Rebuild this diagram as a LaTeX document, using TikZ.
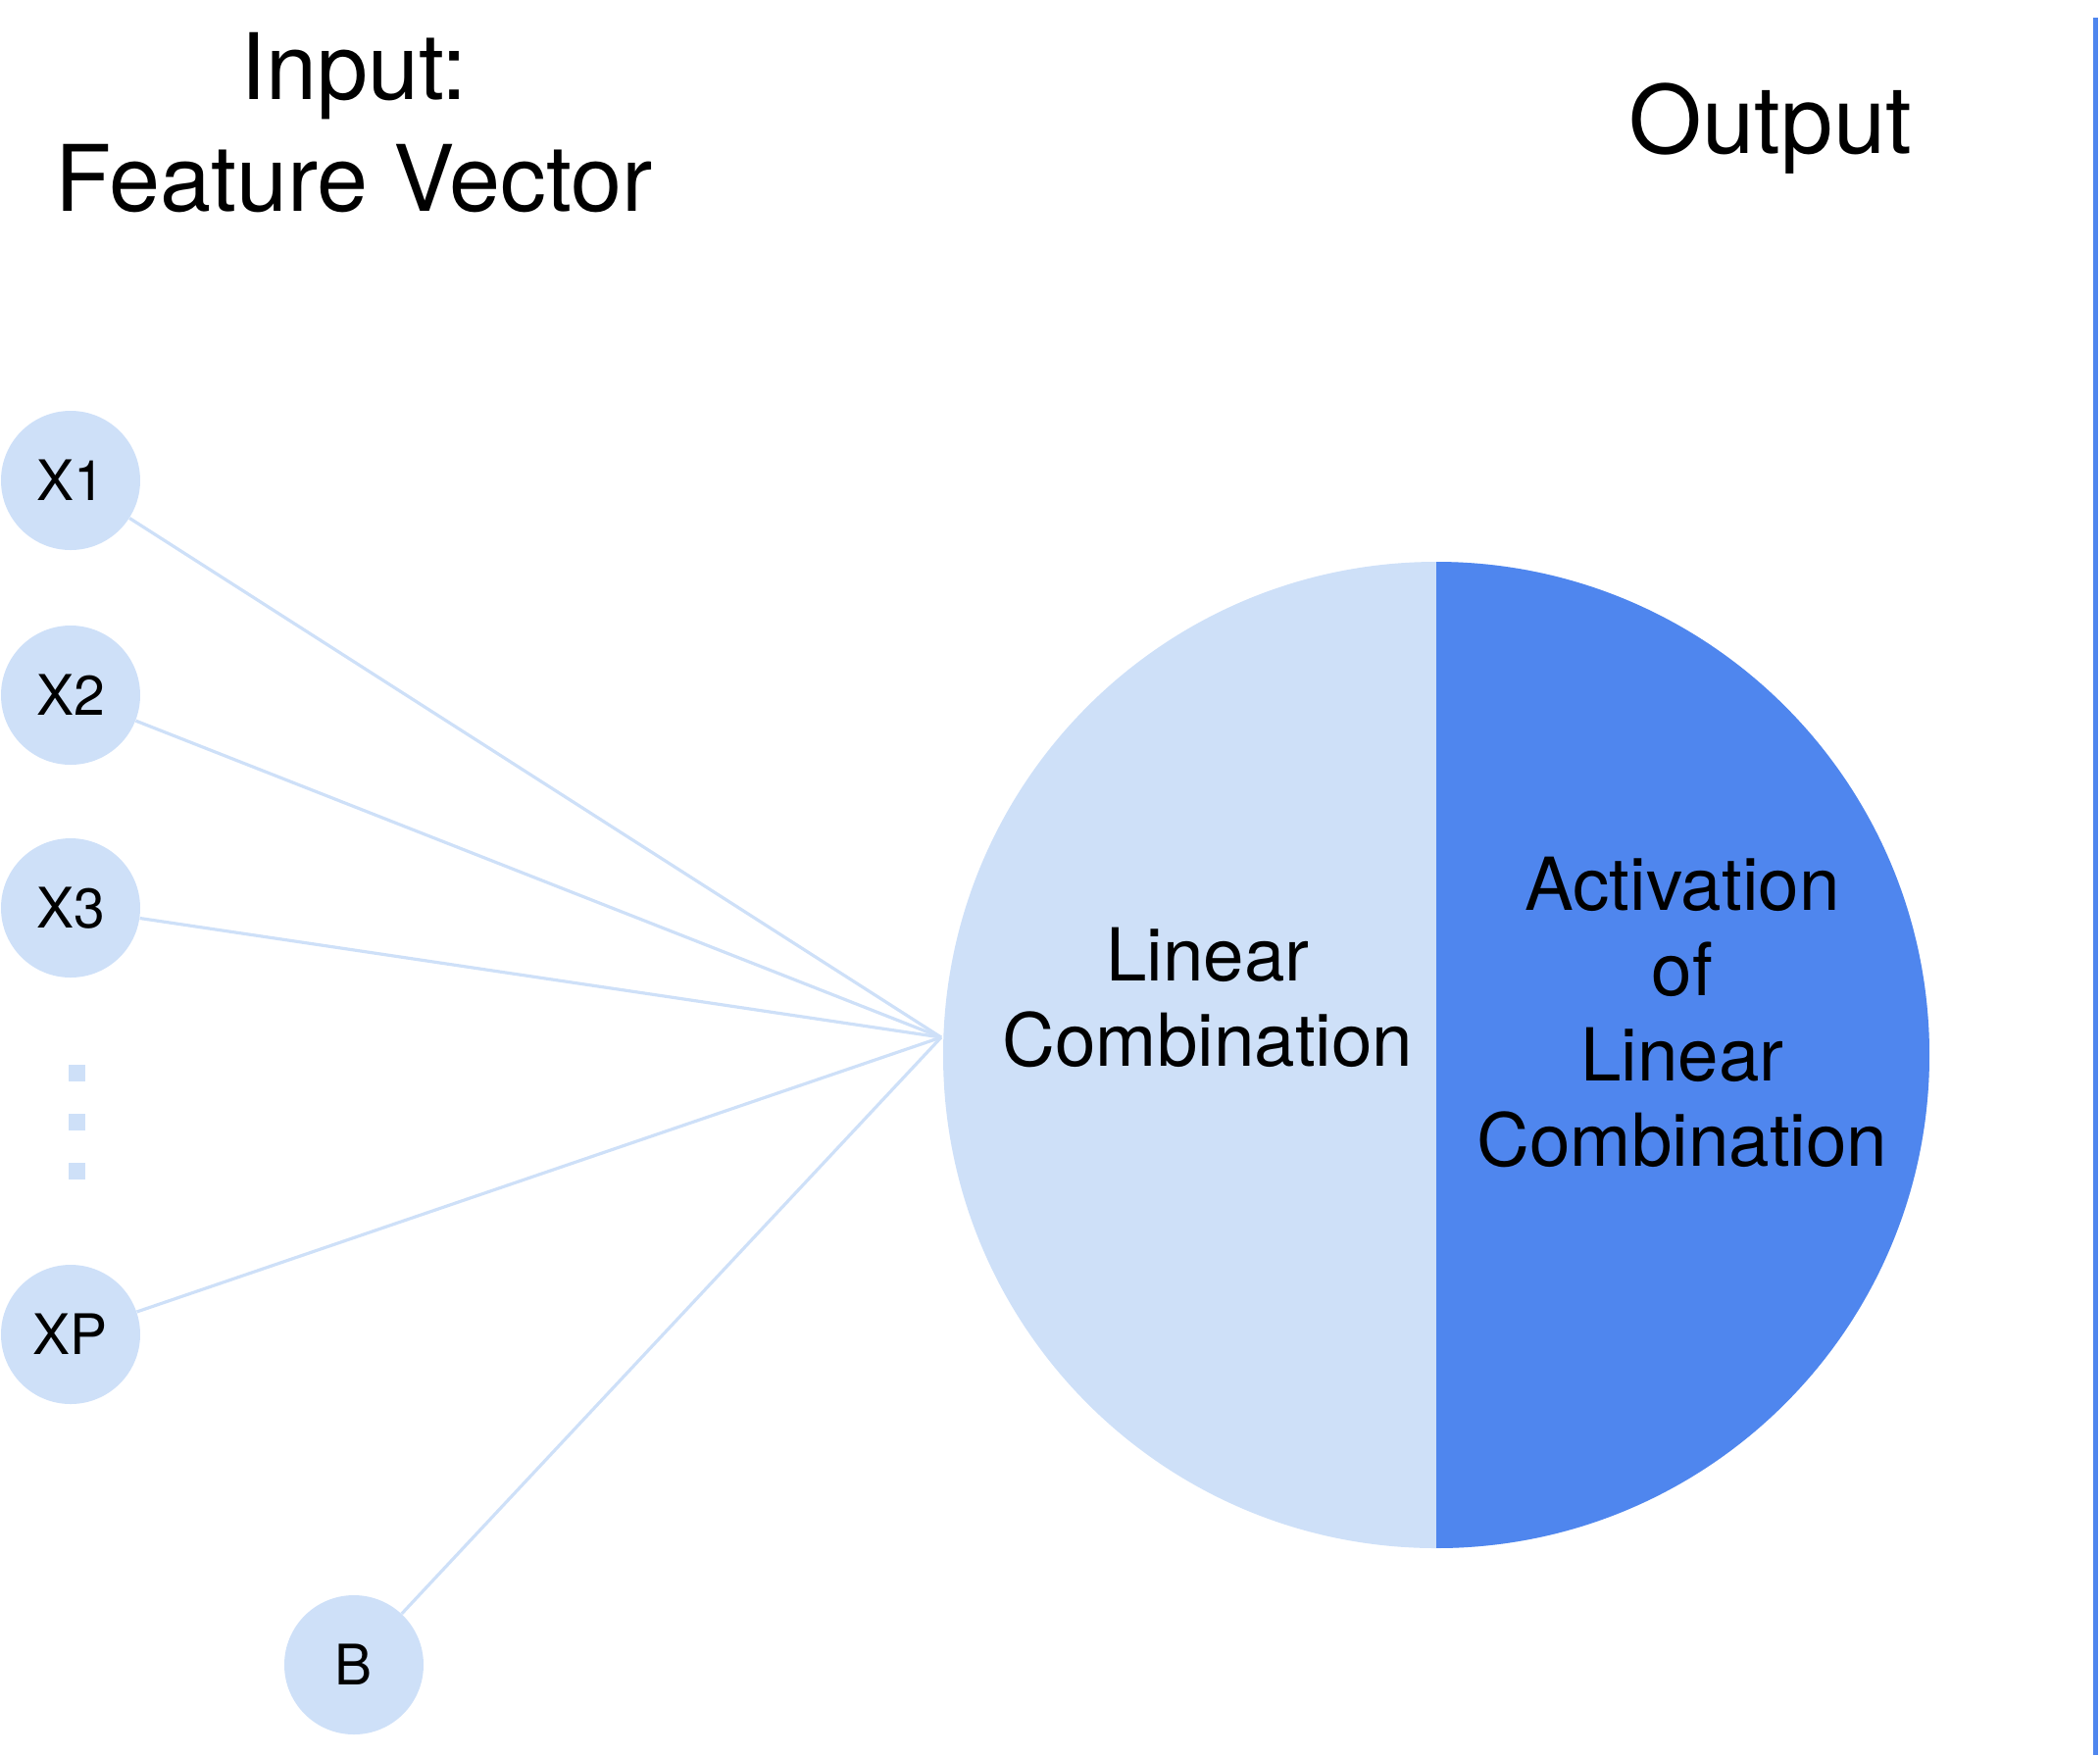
\documentclass[tikz,border=0pt]{standalone}
\usepackage{fontspec}
\setmainfont{TeX Gyre Heros}
\definecolor{lightnode}{RGB}{206,224,248}
\definecolor{actblue}{RGB}{79,134,238}
\begin{document}
\begin{tikzpicture}[x=0.5pt,y=-0.5pt,
  feat/.style={circle, fill=lightnode, minimum size=71pt, inner sep=0pt, font=\fontsize{28.5}{34}\selectfont},
  conn/.style={draw=lightnode, line width=1.6pt},
  dotsq/.style={rectangle, fill=lightnode, minimum size=8.5pt, inner sep=0pt},
  titletext/.style={align=center, font=\fontsize{46.8}{57}\selectfont},
  innertext/.style={align=center, font=\fontsize{37.3}{43.5}\selectfont}]
\useasboundingbox (0,0) rectangle (2142,1790);
% neuron
\node[circle, minimum size=503pt, inner sep=0pt, fill=lightnode,
  path picture={\fill[actblue] (path picture bounding box.north) rectangle (path picture bounding box.south east);}]
  (neuron) at (1465,1076) {};
\coordinate (conv) at (960,1058);
% inputs
\node[feat] (x1) at (72,490) {X1};
\node[feat] (x2) at (72,709) {X2};
\node[feat] (x3) at (72,926) {X3};
\node[feat] (xp) at (72,1361) {XP};
\node[feat] (b) at (361,1698) {B};
\node[dotsq] (d1) at (78,1094) {};
\node[dotsq] (d2) at (78,1144) {};
\node[dotsq] (d3) at (78,1194) {};
% connectors
\draw[conn] (x1) -- (conv);
\draw[conn] (x2) -- (conv);
\draw[conn] (x3) -- (conv);
\draw[conn] (xp) -- (conv);
\draw[conn] (b) -- (conv);
% texts
\node[titletext] (input) at (361,125) {Input:\\Feature Vector};
\node[font=\fontsize{48}{57}\selectfont] (output) at (1806,131) {Output};
\node[innertext] (lin) at (1232,1017) {Linear\\Combination};
\node[innertext] (act) at (1716,1032) {Activation\\of\\Linear\\Combination};
% right border line
\coordinate (rt) at (2137,18);
\coordinate (rb) at (2137,1790);
\draw[actblue, line width=2.5pt] (rt) -- (rb);
\end{tikzpicture}
\end{document}
